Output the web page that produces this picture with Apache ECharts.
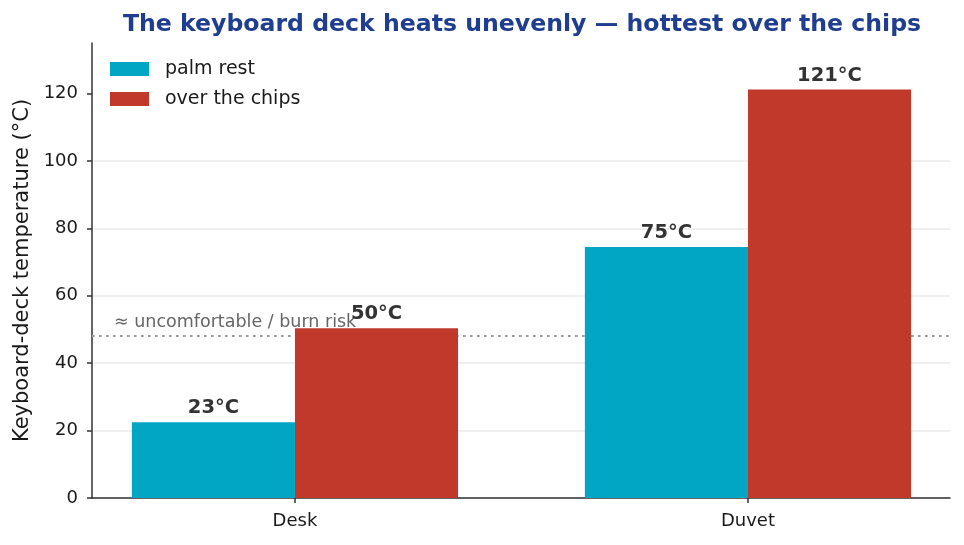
<!DOCTYPE html>
<html>
<head>
<meta charset="utf-8">
<script src="https://cdn.jsdelivr.net/npm/echarts@6/dist/echarts.min.js"></script>
<style>
html,body{margin:0;padding:0;background:#fff;}
#chart{width:964px;height:545px;}
</style>
</head>
<body>
<div id="chart"></div>
<script>
var categories = ['Desk', 'Duvet'];
var seriesNames = ['palm rest', 'over the chips'];
var palmRest = [22.5, 74.5];
var overChips = [50.4, 121.2];
var yTicks = [0, 20, 40, 60, 80, 100, 120];
var thresholdValue = 48;
var thresholdLabel = '≈ uncomfortable / burn risk';
var titleText = 'The keyboard deck heats unevenly — hottest over the chips';
var yAxisName = 'Keyboard-deck temperature (°C)';

var FONT = 'DejaVu Sans';
var chart = echarts.init(document.getElementById('chart'), null, {renderer: 'canvas'});

function toPoints(arr) {
  return arr.map(function (v, i) { return [i, v]; });
}
var labelStyle = {
  show: true,
  position: 'top',
  distance: 4,
  fontFamily: FONT,
  fontWeight: 'bold',
  fontSize: 19.5,
  color: '#333333',
  formatter: function (p) { return Math.round(p.value[1]) + '°C'; }
};

chart.setOption({
  animation: false,
  backgroundColor: '#ffffff',
  title: {
    text: titleText,
    left: 517,
    top: 8,
    textAlign: 'center',
    textStyle: {fontFamily: FONT, fontWeight: 'bold', fontSize: 23.6, color: '#1f3e8f'}
  },
  legend: {
    orient: 'vertical',
    left: 110,
    top: 59.5,
    padding: 0,
    itemWidth: 39,
    itemHeight: 14,
    itemGap: 11,
    icon: 'rect',
    data: seriesNames,
    textStyle: {fontFamily: FONT, fontSize: 19, color: '#1a1a1a', padding: [0, 0, 0, 11]}
  },
  grid: {left: 92, right: 14, top: 43, bottom: 47, containLabel: false},
  xAxis: {
    type: 'value',
    min: -0.448,
    max: 1.446,
    axisLine: {show: true, onZero: false, lineStyle: {color: '#333333', width: 1.5}},
    axisTick: {show: true, length: 5, customValues: categories.map(function (c, i) { return i; }), lineStyle: {color: '#333333', width: 1.5}},
    axisLabel: {
      customValues: categories.map(function (c, i) { return i; }),
      fontFamily: FONT, fontSize: 18, color: '#1a1a1a', margin: 14,
      formatter: function (v) { return categories[Math.round(v)]; }
    },
    splitLine: {show: false}
  },
  yAxis: {
    type: 'value',
    min: 0,
    max: 135,
    interval: 20,
    name: yAxisName,
    nameLocation: 'middle',
    nameGap: 54,
    nameTextStyle: {fontFamily: FONT, fontSize: 21, color: '#1a1a1a'},
    axisLine: {show: true, onZero: false, lineStyle: {color: '#333333', width: 1.5}},
    axisTick: {show: true, length: 5, customValues: yTicks, lineStyle: {color: '#333333', width: 1.5}},
    axisLabel: {customValues: yTicks, fontFamily: FONT, fontSize: 18, color: '#1a1a1a', margin: 14},
    splitLine: {show: true, showMaxLine: false, lineStyle: {color: '#ebebeb', width: 1.5}}
  },
  series: [
    {
      name: 'threshold',
      type: 'line',
      data: [],
      z: 1,
      silent: true,
      markLine: {
        silent: true,
        z: 1,
        symbol: 'none',
        lineStyle: {color: '#9a9a9a', width: 2, type: [2.6, 4.4]},
        label: {
          show: true,
          position: 'insideStartTop',
          distance: [22, 5],
          formatter: thresholdLabel,
          fontFamily: FONT,
          fontSize: 17.5,
          color: '#666666'
        },
        data: [{yAxis: thresholdValue}]
      }
    },
    {
      name: seriesNames[0],
      type: 'bar',
      z: 3,
      barWidth: '36%',
      barGap: '0%',
      itemStyle: {color: '#00a6c4'},
      label: labelStyle,
      data: toPoints(palmRest)
    },
    {
      name: seriesNames[1],
      type: 'bar',
      z: 3,
      barWidth: '36%',
      barGap: '0%',
      itemStyle: {color: '#c0392b'},
      label: labelStyle,
      data: toPoints(overChips)
    }
  ]
});
</script>
</body>
</html>
